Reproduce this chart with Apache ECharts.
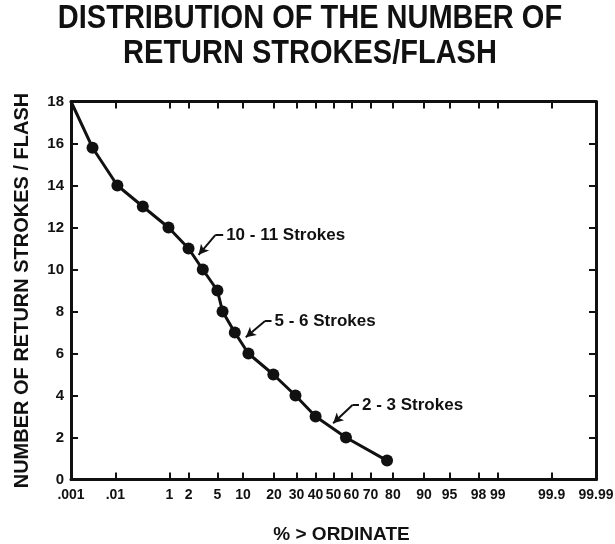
<!DOCTYPE html>
<html>
<head>
<meta charset="utf-8">
<script src="https://cdn.jsdelivr.net/npm/echarts@6/dist/echarts.min.js"></script>
<style>
html, body { margin: 0; padding: 0; background: #fff; }
#chart { width: 615px; height: 544px; }
</style>
</head>
<body>
<div id="chart"></div>
<script>
// percent of flashes with more strokes than the ordinate
const pctAbove = [0.01, 0.032, 0.11, 0.345, 0.97, 2, 3.2, 5, 5.8, 8.1, 11.4, 19.7, 29.5, 40, 57, 77.6]
const strokes = [18, 15.8, 14, 13, 12, 11, 10, 9, 8, 7, 6, 5, 4, 3, 2, 0.9]

// probability-scale ticks and the text printed under them
const tickPct = [0.01, 0.1, 1, 2, 5, 10, 20, 30, 40, 50, 60, 70, 80, 90, 95, 98, 99, 99.9, 99.99]
const tickLabels = ['.001', '.01', '1', '2', '5', '10', '20', '30', '40', '50', '60', '70', '80', '90', '95', '98', '99', '99.9', '99.99']

// callouts: [pct, strokes] of text anchor, elbow and arrow tip
const notes = [
  { text: '10 - 11 Strokes', start: [5.9, 11.64], elbow: [4.7, 11.64], tip: [2.8, 10.7] },
  { text: '5 - 6 Strokes', start: [19.0, 7.55], elbow: [16.6, 7.55], tip: [10.7, 6.77] },
  { text: '2 - 3 Strokes', start: [64.1, 3.55], elbow: [60.6, 3.55], tip: [49.8, 2.68] }
]

// normal quantile (Acklam), used as the x scale transform
function probit (p) {
  const a = [-3.969683028665376e+01, 2.209460984245205e+02, -2.759285104469687e+02, 1.383577518672690e+02, -3.066479806614716e+01, 2.506628277459239e+00]
  const b = [-5.447609879822406e+01, 1.615858368580409e+02, -1.556989798598866e+02, 6.680131188771972e+01, -1.328068155288572e+01]
  const c = [-7.784894002430293e-03, -3.223964580411365e-01, -2.400758277161838e+00, -2.549732539343734e+00, 4.374664141464968e+00, 2.938163982698783e+00]
  const d = [7.784695709041462e-03, 3.224671290700398e-01, 2.445134137142996e+00, 3.754408661907416e+00]
  const tail = (q) => (((((c[0] * q + c[1]) * q + c[2]) * q + c[3]) * q + c[4]) * q + c[5]) /
    ((((d[0] * q + d[1]) * q + d[2]) * q + d[3]) * q + 1)
  if (p < 0.02425) return tail(Math.sqrt(-2 * Math.log(p)))
  if (p > 1 - 0.02425) return -tail(Math.sqrt(-2 * Math.log(1 - p)))
  const q = p - 0.5
  const r = q * q
  return (((((a[0] * r + a[1]) * r + a[2]) * r + a[3]) * r + a[4]) * r + a[5]) * q /
    (((((b[0] * r + b[1]) * r + b[2]) * r + b[3]) * r + b[4]) * r + 1)
}
const z = (pct) => probit(pct / 100)
const pt = (v) => [z(v[0]), v[1]]

const tickZ = tickPct.map(z)
const zMin = tickZ[0]
const zMax = tickZ[tickZ.length - 1]

const font = 'Liberation Sans, Arial, Helvetica, sans-serif'
const ink = '#111'

const lineData = pctAbove.map((p, i) => {
  const item = { value: [z(p), strokes[i]] }
  if (i === 0) item.symbol = 'none'
  return item
})

const arrowLines = []
const noteLabels = []
notes.forEach((n) => {
  arrowLines.push([{ coord: pt(n.start), symbol: 'none' }, { coord: pt(n.elbow), symbol: 'none' }])
  arrowLines.push([{ coord: pt(n.elbow), symbol: 'none' }, { coord: pt(n.tip), symbol: 'arrow' }])
  noteLabels.push({ coord: pt(n.start), value: n.text })
})

const tickStyle = { show: true, inside: true, length: 7, lineStyle: { color: ink, width: 2 } }
const axisLine = { show: true, onZero: false, lineStyle: { color: ink, width: 3 } }

const option = {
  animation: false,
  backgroundColor: '#fff',
  // title drawn a bit taller than the font, like the original lettering
  graphic: [
    {
      type: 'text',
      x: 310,
      y: 1,
      scaleY: 1.13,
      style: {
        text: 'DISTRIBUTION OF THE NUMBER OF\nRETURN STROKES/FLASH',
        align: 'center',
        verticalAlign: 'top',
        fontFamily: font,
        fontWeight: 'bold',
        fontSize: 29,
        lineHeight: 31,
        fill: ink
      }
    }
  ],
  grid: { left: 71, right: 19, top: 101.5, bottom: 64.5, containLabel: false, outerBoundsMode: 'none' },
  xAxis: [
    {
      type: 'value',
      min: zMin,
      max: zMax,
      position: 'bottom',
      name: '% > ORDINATE',
      nameLocation: 'middle',
      nameGap: 46,
      nameTextStyle: { fontFamily: font, fontWeight: 'bold', fontSize: 19, color: ink, padding: [0, 0, 0, 16] },
      axisLine: axisLine,
      axisTick: Object.assign({ customValues: tickZ }, tickStyle),
      axisLabel: {
        customValues: tickZ,
        margin: 9,
        fontFamily: font,
        fontWeight: 'bold',
        fontSize: 14,
        color: ink,
        formatter: (v) => {
          const i = tickZ.findIndex((t) => Math.abs(t - v) < 1e-9)
          return i >= 0 ? tickLabels[i] : ''
        }
      },
      splitLine: { show: false }
    },
    {
      type: 'value',
      min: zMin,
      max: zMax,
      position: 'top',
      axisLine: axisLine,
      axisTick: Object.assign({ customValues: tickZ }, tickStyle),
      axisLabel: { show: false },
      splitLine: { show: false }
    }
  ],
  yAxis: [
    {
      type: 'value',
      min: 0,
      max: 18,
      interval: 2,
      position: 'left',
      name: 'NUMBER OF RETURN STROKES / FLASH',
      nameLocation: 'middle',
      nameGap: 39,
      nameTextStyle: { fontFamily: font, fontWeight: 'bold', fontSize: 20, color: ink },
      axisLine: axisLine,
      axisTick: tickStyle,
      axisLabel: { margin: 7, fontFamily: font, fontWeight: 'bold', fontSize: 15, color: ink },
      splitLine: { show: false }
    },
    {
      type: 'value',
      min: 0,
      max: 18,
      interval: 2,
      position: 'right',
      axisLine: axisLine,
      axisTick: tickStyle,
      axisLabel: { show: false },
      splitLine: { show: false }
    }
  ],
  series: [
    {
      type: 'line',
      data: lineData,
      symbol: 'circle',
      symbolSize: 12,
      itemStyle: { color: ink },
      lineStyle: { color: ink, width: 3 },
      z: 3,
      markLine: {
        silent: true,
        symbolSize: [8, 10],
        lineStyle: { color: ink, width: 2, type: 'solid' },
        label: { show: false },
        data: arrowLines
      },
      markPoint: {
        silent: true,
        symbol: 'circle',
        symbolSize: 0,
        label: {
          show: true,
          position: 'right',
          distance: 3,
          formatter: (p) => p.value,
          fontFamily: font,
          fontWeight: 'bold',
          fontSize: 17,
          color: ink
        },
        data: noteLabels
      }
    }
  ]
}

const chart = echarts.init(document.getElementById('chart'))
chart.setOption(option)
</script>
</body>
</html>
